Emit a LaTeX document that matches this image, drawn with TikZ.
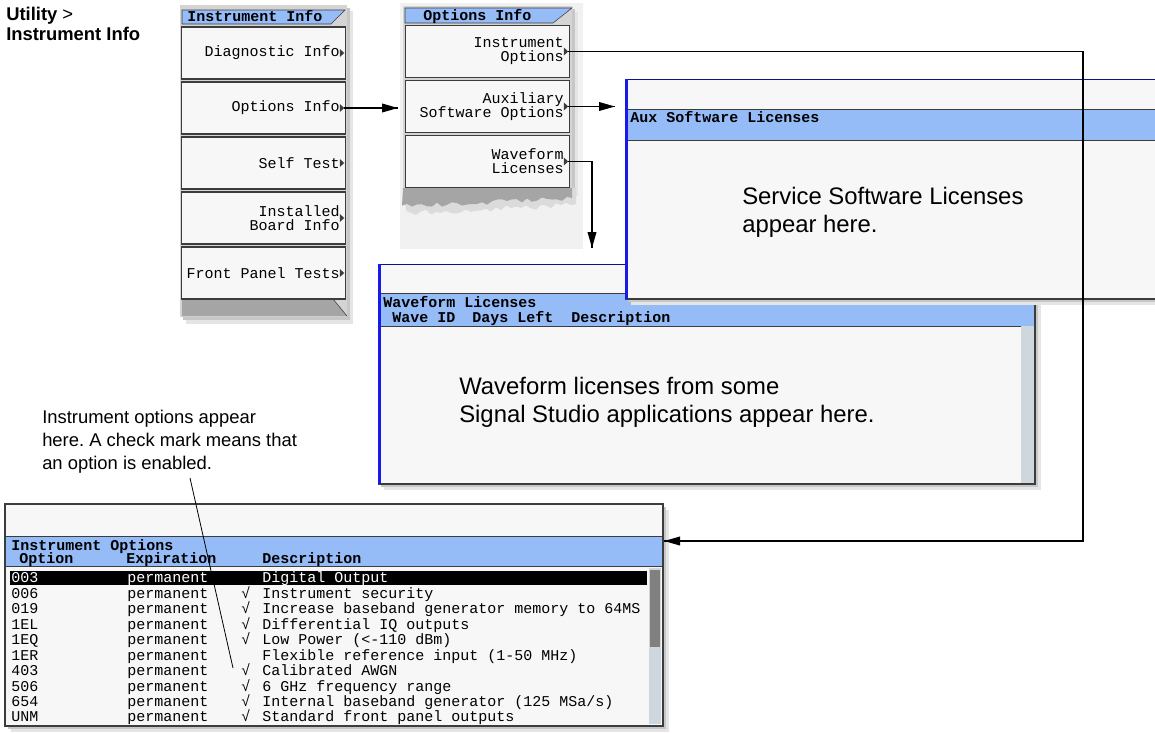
\documentclass[tikz,border=0pt]{standalone}
\usepackage{fontspec}
\setmainfont{Liberation Sans}
\setmonofont{Liberation Mono}[WordSpace={1,0,0}]
\usetikzlibrary{arrows.meta}
\usetikzlibrary{decorations.markings}
\usetikzlibrary{positioning}
\frenchspacing

\definecolor{bandblue}{RGB}{150,188,247}
\definecolor{screen}{RGB}{247,247,247}
\definecolor{frame}{RGB}{60,60,60}
\definecolor{scroll}{RGB}{206,214,222}
\definecolor{keygray}{RGB}{212,212,212}
\definecolor{foldgray}{RGB}{165,165,165}
\definecolor{backdrop}{RGB}{241,241,241}
\definecolor{edgeblue}{RGB}{25,25,235}

\newcommand{\monofont}{\ttfamily\fontsize{11.25}{10.5}\selectfont}
\newcommand{\boldmono}{\ttfamily\bfseries\fontsize{11.25}{11.5}\selectfont}
\newcommand{\ok}{√}
\newcommand{\dropshadow}[4]{%
  \fill[black!10] ({#1+6},{#2+6}) rectangle ({#3+6},{#4+6});
  \fill[black!22] ({#1+3},{#2+3}) rectangle ({#3+3},{#4+3});}

\tikzset{leadto/.style = {line width=1.1pt,
                          decoration={markings,
                                      mark=at position 1 with {\arrow{Triangle[length=12pt,width=6.5pt]}}},
                          postaction={decorate}},
         softkey/.style = {draw=frame, line width=1pt, fill=screen, outer sep=0pt,
                           minimum width=123pt, minimum height=39pt},
         keylabel/.style = {anchor=east, align=right, inner sep=0pt, font=\monofont},
         cell/.style = {anchor=west, inner sep=0pt, text height=7.4pt, text depth=0pt, font=\monofont},
         head/.style = {cell, font=\boldmono},
         note/.style = {anchor=north west, inner sep=0pt, align=left,
                        font=\fontsize{13.8}{17.2}\selectfont},
         body/.style = {anchor=north west, inner sep=0pt, align=left,
                        font=\fontsize{17.9}{21}\selectfont}}

\begin{document}
\begin{tikzpicture}[x=0.75pt, y=-0.75pt]
  \useasboundingbox (0,0) rectangle (1155,732);
  \pgfmathsetseed{5}

  % key path
  \node[note, font=\bfseries\fontsize{13.8}{15}\selectfont] (keypath) at (6,6.5)
    {Utility \textmd{>}\\Instrument Info};

  % Instrument Info menu
  \fill[black!10] (186,11) rectangle (353,324);
  \fill[black!22] (183,8) rectangle (350,320);
  \fill[keygray] (180,5) rectangle (347,317);
  \fill[foldgray] (182,299) -- (333,299) -- (347,316) -- (182,316) -- cycle;
  \draw[frame] (333,299) -- (347,316);
  \draw[frame, fill=bandblue] (182,10) -- (345,10) -- (331,24) -- (182,24) -- cycle;
  \node[head] (menutitle) at (187,17) {Instrument Info};
  \foreach \name/\lbl [count=\i from 0] in {diag/Diagnostic Info, opts/Options Info,
      self/Self Test, board/{Installed\\Board Info}, front/Front Panel Tests} {
    \node[softkey] (\name) at (263.5,{53+55*\i}) {};
    \node[keylabel] (\name-text) at ([xshift=-4.2pt]\name.east) {\lbl};
  }

  % Options Info menu
  \fill[backdrop] (400,3) rectangle (583,249);
  \fill[black!10] (409,12) rectangle (578,196);
  \fill[black!22] (406,9) rectangle (575,192);
  \fill[keygray] (403,6) rectangle (572,190);
  \fill[black!14] (403,188) -- (576,188) -- (576,204)
    \foreach \k in {1,...,34} { -- ({576-5*\k},{205+0.05*5*\k+3*rand}) } -- cycle;
  \fill[foldgray] (403,188) -- (572,188) -- (572,198)
    \foreach \k in {1,...,34} { -- ({572-5*\k},{198+0.05*5*\k+2.5*rand}) } -- cycle;
  \draw[frame, fill=bandblue] (405,8) -- (572,8) -- (553,23) -- (405,23) -- cycle;
  \node[head] (optitle) at (423,15.5) {Options Info};
  \foreach \name/\lbl [count=\i from 0] in {instopt/{Instrument\\Options},
      auxopt/{Auxiliary\\Software Options}, wavelic/{Waveform\\Licenses}} {
    \node[softkey] (\name) at (487.5,{51.5+55*\i}) {};
    \node[keylabel] (\name-text) at ([xshift=-4.2pt]\name.east) {\lbl};
  }

  \foreach \name in {diag,opts,self,board,front,instopt,auxopt,wavelic}
    \fill[frame] ([xshift=-4.3pt,yshift=3pt]\name.east) -- ([xshift=-0.9pt]\name.east)
                 -- ([xshift=-4.3pt,yshift=-3pt]\name.east) -- cycle;

  % Waveform Licenses screen
  \dropshadow{378}{264}{1035}{484}
  \fill[screen] (378,264) rectangle (1035,484);
  \fill[bandblue] (378,293) rectangle (1035,326);
  \fill[scroll] (1021,326) rectangle (1035,484);
  \draw[frame] (378,293) -- (1035,293) (378,326) -- (1021,326);
  \draw[frame, line width=1.2pt] (378,484) -- (1035,484) -- (1035,264);
  \draw[edgeblue!60!black] (378,264) -- (1035,264);
  \draw[edgeblue, line width=2pt] (379.5,264) -- (379.5,484);
  \node[head] (wavetitle) at (383,303) {Waveform Licenses};
  \node[head] (waveid) at (392,318) {Wave ID};
  \node[head] (daysleft) at (472,318) {Days Left};
  \node[head] (wavedesc) at (571,318) {Description};
  \node[body] (wavenote) at (459,377)
    {Waveform licenses from some\\Signal Studio applications appear here.};

  % Aux Software Licenses screen
  \dropshadow{625}{79}{1160}{299}
  \fill[screen] (625,79) rectangle (1160,299);
  \fill[bandblue] (625,109) rectangle (1160,140);
  \draw[frame] (625,109) -- (1160,109) (625,140) -- (1160,140);
  \draw[frame, line width=1.2pt] (625,299) -- (1160,299);
  \draw[edgeblue!60!black] (625,79) -- (1160,79);
  \draw[edgeblue, line width=2pt] (626.5,79) -- (626.5,299);
  \node[head] (auxtitle) at (630,118) {Aux Software Licenses};
  \node[body] (auxnote) at (742,187) {Service Software Licenses\\appear here.};

  % Instrument Options screen
  \dropshadow{5}{504}{663}{726}
  \fill[screen] (5,504) rectangle (663,726);
  \fill[bandblue] (5,536) rectangle (663,566);
  \fill[scroll] (649,568) rectangle (661,724);
  \fill[black!50] (650,570) rectangle (660,647);
  \draw[frame] (5,536) -- (663,536) (5,566) -- (663,566);
  \draw[frame, line width=1.4pt] (5,504) rectangle (663,726);
  \node[head] (iotitle) at (11,546) {Instrument Options};
  \node[head] (colopt) at (19,559) {Option};
  \node[head] (colexp) at (126,559) {Expiration};
  \node[head] (coldesc) at (262,559) {Description};
  \fill[black] (10,571) rectangle (647,585);
  \node[cell, text=white] (row003) at (11,578) {003};
  \node[cell, text=white] at (127,578) {permanent};
  \node[cell, text=white] at (262,578) {Digital Output};
  \foreach \opt/\chk/\desc [count=\i] in {006/\ok/{Instrument security},
      019/\ok/{Increase baseband generator memory to 64MS},
      1EL/\ok/{Differential IQ outputs}, 1EQ/\ok/{Low Power (<-110 dBm)},
      1ER/{}/{Flexible reference input (1-50 MHz)}, 403/\ok/{Calibrated AWGN},
      506/\ok/{6 GHz frequency range},
      654/\ok/{Internal baseband generator (125 MSa/s)},
      UNM/\ok/{Standard front panel outputs}} {
    \node[cell] (row\opt) at (11,{578+15.45*\i}) {\opt};
    \node[cell] at (127,{578+15.45*\i}) {permanent};
    \node[cell] at (241,{578+15.45*\i}) {\chk};
    \node[cell] at (262,{578+15.45*\i}) {\desc};
  }

  % note
  \node[note] (ionote) at (42,410)
    {Instrument options appear\\here. A check mark means that\\an option is enabled.};
  \coordinate (note-foot) at (190,478);
  \coordinate (check-mark) at (233,668);
  \draw[line width=0.6pt] (note-foot) -- (check-mark);

  % connectors
  \coordinate (oi-in) at (398,108);
  \coordinate (aux-in) at (615,106.5);
  \coordinate (wave-in) at (592,248);
  \coordinate (io-turn) at (1083,541);
  \coordinate (io-in) at (664,541);
  \draw[leadto] ([xshift=-0.9pt]opts.east) -- (oi-in);
  \draw[leadto] ([xshift=-0.9pt]auxopt.east) -- (aux-in);
  \draw[leadto] ([xshift=-0.9pt]wavelic.east) -| (wave-in);
  \draw[leadto] ([xshift=-0.9pt]instopt.east) -| (io-turn) -- (io-in);
\end{tikzpicture}
\end{document}
